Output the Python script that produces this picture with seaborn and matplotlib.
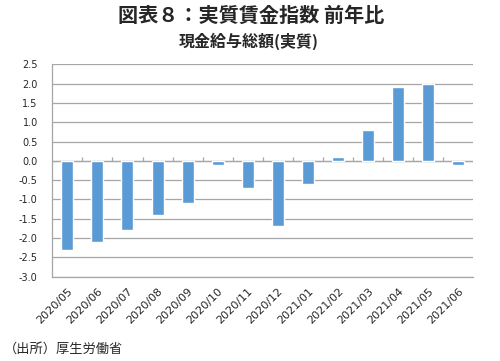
import matplotlib
matplotlib.use("Agg")
import matplotlib.pyplot as plt
import numpy as np
import pandas as pd
import seaborn as sns

MONTHS = [
    "2020/05", "2020/06", "2020/07", "2020/08", "2020/09", "2020/10", "2020/11",
    "2020/12", "2021/01", "2021/02", "2021/03", "2021/04", "2021/05", "2021/06",
]
WAGE_YOY = [-2.3, -2.1, -1.8, -1.4, -1.1, -0.1, -0.7,
            -1.7, -0.6, 0.1, 0.8, 1.9, 2.0, -0.1]
Y_TICKS = np.arange(-3.0, 2.51, 0.5)

TITLE = "図表８：実質賃金指数 前年比"
SUBTITLE = "現金給与総額(実質)"
SOURCE = "（出所）厚生労働省"

BAR_COLOR = "#5B9BD5"
GRID_COLOR = "#A6A6A6"

sns.set_style("white")
plt.rcParams["font.family"] = ["Noto Sans CJK JP", "DejaVu Sans"]

df = pd.DataFrame({"month": MONTHS, "value": WAGE_YOY})

fig = plt.figure(figsize=(5.0, 3.61), dpi=100)
ax = fig.add_axes([0.1046, 0.2335, 0.842, 0.5884])

sns.barplot(data=df, x="month", y="value", color=BAR_COLOR, width=0.4,
            saturation=1, ax=ax, zorder=3)

ax.set_ylim(-3.0, 2.5)
ax.set_xlim(-0.5, len(MONTHS) - 0.5)
ax.set_yticks(Y_TICKS)
ax.set_yticklabels([f"{v:.1f}" for v in Y_TICKS], fontsize=7,
                   family="DejaVu Sans")
ax.yaxis.grid(True, color=GRID_COLOR, linewidth=0.9, zorder=0)
ax.set_axisbelow(True)

# zero line with small category ticks
ax.axhline(0, color=GRID_COLOR, linewidth=0.9, zorder=2)
bounds = np.arange(len(MONTHS) - 1) + 0.5
ax.vlines(bounds, 0, 0.09, color=GRID_COLOR, linewidth=0.9, zorder=2)

ax.set_xticks(range(len(MONTHS)))
ax.set_xticklabels(MONTHS, rotation=45, ha="right", rotation_mode="anchor",
                   fontsize=8, family="DejaVu Sans")
ax.tick_params(axis="y", length=0, pad=10.5)
ax.tick_params(axis="x", length=0, pad=7)
ax.set_xlabel("")
ax.set_ylabel("")

for side in ["top", "right"]:
    ax.spines[side].set_visible(False)
for side in ["left", "bottom"]:
    ax.spines[side].set_color(GRID_COLOR)
    ax.spines[side].set_linewidth(0.9)

fig.text(0.503, 0.958, TITLE, ha="center", va="center", fontsize=14.5,
         fontweight="bold")
fig.text(0.497, 0.886, SUBTITLE, ha="center", va="center", fontsize=11.5,
         fontweight="bold")
fig.text(0.008, 0.033, SOURCE, ha="left", va="center", fontsize=9.5)

fig.savefig("out.png", dpi=100)
